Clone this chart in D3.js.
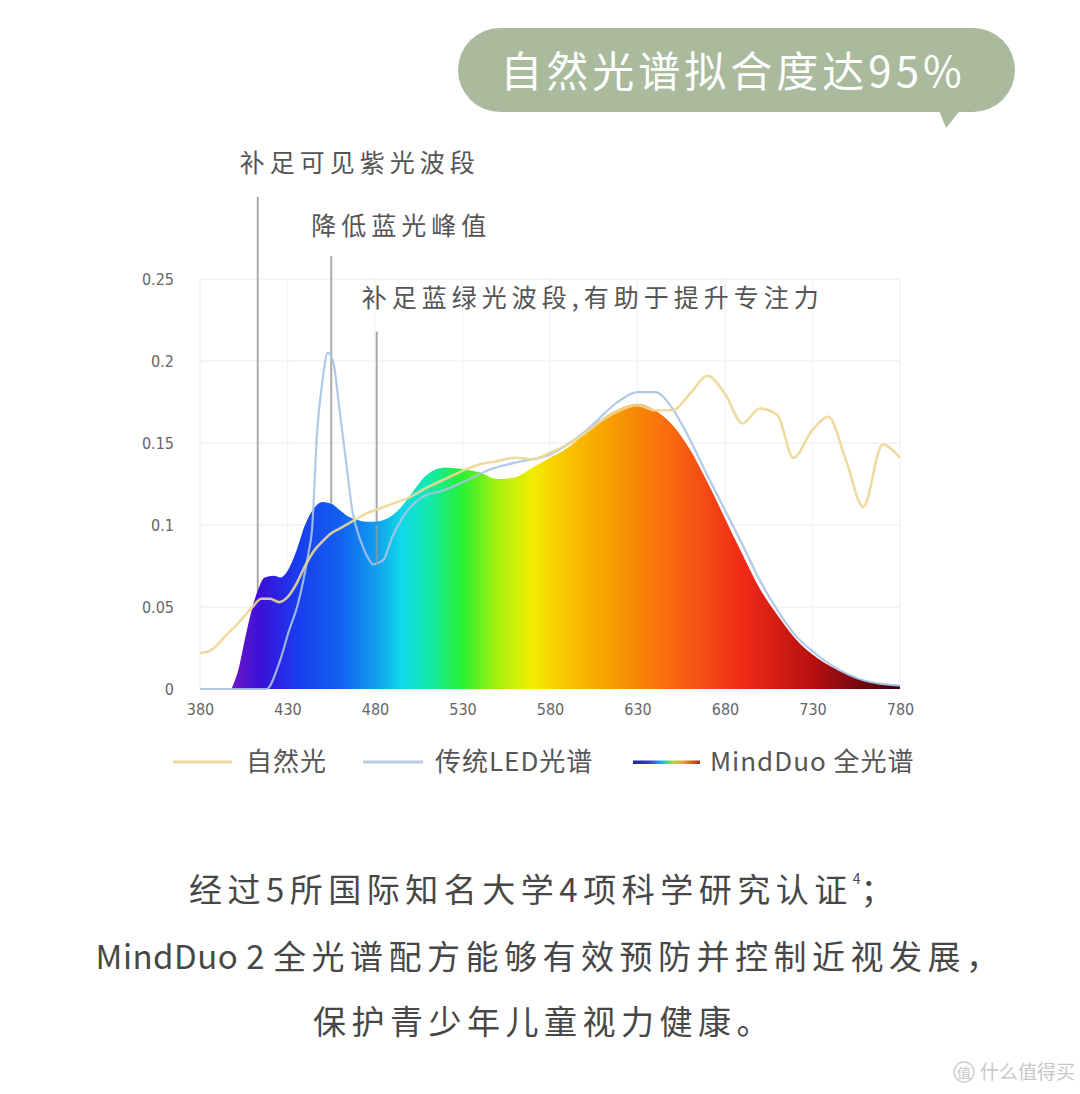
<!DOCTYPE html>
<html><head><meta charset="utf-8">
<script src="https://cdn.jsdelivr.net/npm/d3@7"></script>
<style>
html,body{margin:0;padding:0;background:#fff;}
svg{display:block;font-family:"Noto Sans CJK SC","Noto Sans",sans-serif;}
</style></head>
<body>
<svg id="c" width="1080" height="1094"></svg>
<script>
// ---- data ----
const xTicks = [380,430,480,530,580,630,680,730,780];
const yTicks = [0,0.05,0.1,0.15,0.2,0.25];
const yTickLabels = ["0","0.05","0.1","0.15","0.2","0.25"];

const naturalNm  = [380,385,390,395,400,405,410,415,420,425,430,435,440,445,450,455,460,465,470,475,480,490,500,510,520,530,540,550,560,570,580,590,600,610,620,630,640,650,660,670,680,690,700,710,719,730,739,749,759,770,780];
const naturalVal = [0.022,0.023,0.027,0.033,0.038,0.044,0.050,0.055,0.055,0.053,0.056,0.064,0.075,0.084,0.090,0.095,0.098,0.101,0.104,0.107,0.109,0.113,0.117,0.123,0.128,0.133,0.137,0.139,0.141,0.140,0.144,0.149,0.156,0.164,0.170,0.173,0.170,0.170,0.180,0.191,0.180,0.162,0.171,0.167,0.141,0.158,0.166,0.140,0.111,0.149,0.141];

const ledNm  = [380,400,418,425,431,436,439,442,444,447,450,453,456,460,464,467,470,473,476,479,482,485,490,496,507,519,530,546,560,580,600,620,630,640,650,660,670,680,690,700,710,720,730,740,760,780];
const ledVal = [0,0,0,0.015,0.036,0.052,0.066,0.083,0.097,0.158,0.188,0.205,0.200,0.168,0.134,0.109,0.096,0.087,0.080,0.076,0.077,0.079,0.093,0.105,0.117,0.121,0.126,0.134,0.138,0.143,0.157,0.176,0.181,0.181,0.171,0.152,0.130,0.109,0.088,0.066,0.048,0.033,0.023,0.015,0.005,0.002];

const mindNm  = [398,402,406,410,413,417,422,426,430,435,440,445,450,455,460,465,470,475,480,485,490,495,500,510,520,530,540,550,560,570,580,590,600,610,620,630,640,650,660,670,680,690,700,710,720,730,740,750,760,770,780];
const mindVal = [0,0.012,0.032,0.050,0.060,0.068,0.069,0.068,0.072,0.084,0.100,0.110,0.114,0.113,0.109,0.105,0.103,0.102,0.102,0.103,0.106,0.111,0.118,0.131,0.135,0.134,0.132,0.128,0.129,0.135,0.141,0.147,0.156,0.165,0.171,0.174,0.170,0.161,0.146,0.126,0.104,0.082,0.061,0.045,0.031,0.021,0.014,0.009,0.005,0.003,0.002];

const spectrumNm     = [398,415,435,460,480,495,510,530,550,570,590,615,650,690,730,780];
const spectrumColors = ["#6a18c8","#3a10d8","#1a3cee","#1260f0","#109cee","#10d8e8","#10eab0","#28f030","#a8f010","#f4ec00","#f8c400","#f89c00","#f86810","#f02a18","#b81010","#3a0010"];

const annotations = [
  {nm:413, top:0.300, bottom:0.055, label:"补足可见紫光波段", ly:0.315, dx:-18},
  {nm:455, top:0.264, bottom:0.113, label:"降低蓝光峰值", ly:0.277, dx:-20},
  {nm:481, top:0.218, bottom:0.076, label:"补足蓝绿光波段,有助于提升专注力", ly:0.233, dx:-15}
];

const legendItems = ["自然光","传统LED光谱","MindDuo 全光谱"];
const titleText = "自然光谱拟合度达95%";
const bodyLine1 = "经过5所国际知名大学4项科学研究认证";
const bodyLine2a = "MindDuo 2";
const bodyLine2b = "全光谱配方能够有效预防并控制近视发展，";
const bodyLine3 = "保护青少年儿童视力健康。";

// ---- chart ----
const svg = d3.select("#c");
const x = d3.scaleLinear().domain([380,780]).range([200,900]);
const y = d3.scaleLinear().domain([0,0.25]).range([689,279]);

const defs = svg.append("defs");
const grad = defs.append("linearGradient").attr("id","spec")
  .attr("gradientUnits","userSpaceOnUse")
  .attr("x1",x(380)).attr("x2",x(780)).attr("y1",0).attr("y2",0);
spectrumNm.forEach((n,i)=>grad.append("stop").attr("offset",(n-380)/400).attr("stop-color",spectrumColors[i]));
const lg = defs.append("linearGradient").attr("id","legspec").attr("x1","0").attr("x2","1");
[["0","#1a2a90"],["0.25","#3a3ae0"],["0.45","#20c0e0"],["0.6","#b0e020"],["0.75","#f0a020"],["1","#a03020"]].forEach(s=>lg.append("stop").attr("offset",s[0]).attr("stop-color",s[1]));

// title bubble
const tb = svg.append("g");
tb.append("path").attr("d","M938,108 L962,108 L946,128 Z").attr("fill","#a9ba9d");
tb.append("rect").attr("x",458).attr("y",28).attr("width",557).attr("height",84).attr("rx",42).attr("fill","#a9ba9d");
tb.append("text").attr("x",733).attr("y",87).attr("text-anchor","middle")
  .attr("font-size",42).attr("letter-spacing",4).attr("fill","#fff").text(titleText);

// grid
const grid = svg.append("g");
grid.selectAll(".h").data(yTicks.slice(1)).join("line")
  .attr("x1",x(380)).attr("x2",x(780)).attr("y1",d=>y(d)).attr("y2",d=>y(d))
  .attr("stroke","#ececec").attr("stroke-width",1.2);
grid.selectAll(".v").data(xTicks).join("line")
  .attr("x1",d=>x(d)).attr("x2",d=>x(d)).attr("y1",y(0.25)).attr("y2",y(0))
  .attr("stroke","#f2f2f2").attr("stroke-width",1.2);

// y axis labels
const yAxis = d3.axisLeft(y).tickValues(yTicks).tickFormat((d,i)=>yTickLabels[i]).tickSize(0).tickPadding(0);
const ya = svg.append("g").attr("transform","translate(174,0)").call(yAxis);
ya.select(".domain").remove();
ya.selectAll("text").attr("font-size",16).attr("fill","#666").attr("font-family","'DejaVu Sans Condensed','Liberation Sans Narrow',sans-serif");

// x axis labels
const xAxis = d3.axisBottom(x).tickValues(xTicks).tickFormat(d3.format("d")).tickSize(0).tickPadding(0);
const xa = svg.append("g").attr("transform","translate(0,704)").call(xAxis);
xa.select(".domain").remove();
xa.selectAll("text").attr("font-size",16).attr("fill","#666").attr("font-family","'DejaVu Sans Condensed','Liberation Sans Narrow',sans-serif");

// annotation lines
svg.append("g").selectAll("line").data(annotations).join("line")
  .attr("x1",d=>x(d.nm)).attr("x2",d=>x(d.nm)).attr("y1",d=>y(d.top)).attr("y2",d=>y(d.bottom))
  .attr("stroke","#aaa").attr("stroke-width",2);
svg.append("g").selectAll("text").data(annotations).join("text")
  .attr("x",d=>x(d.nm)+d.dx).attr("y",d=>y(d.ly)).attr("font-size",25).attr("letter-spacing",5)
  .attr("fill","#555").text(d=>d.label);

// fill
const mind = mindNm.map((n,i)=>[n,mindVal[i]]);
const area = d3.area().x(d=>x(d[0])).y0(y(0)).y1(d=>y(d[1])).curve(d3.curveMonotoneX);
svg.append("path").datum(mind).attr("d",area).attr("fill","url(#spec)");

// LED line
const line = d3.line().x(d=>x(d[0])).y(d=>y(d[1])).curve(d3.curveMonotoneX);
svg.append("path").datum(ledNm.map((n,i)=>[n,ledVal[i]])).attr("d",line)
  .attr("fill","none").attr("stroke","#a7c3e6").attr("stroke-width",2.2).attr("opacity",0.9);
// natural line
svg.append("path").datum(naturalNm.map((n,i)=>[n,naturalVal[i]])).attr("d",line)
  .attr("fill","none").attr("stroke","#ecd797").attr("stroke-width",2.6).attr("opacity",0.9);
// annotation 3 over fill
svg.append("line").attr("x1",x(annotations[2].nm)).attr("x2",x(annotations[2].nm))
  .attr("y1",y(0.10)).attr("y2",y(annotations[2].bottom)).attr("stroke","#999").attr("stroke-width",2).attr("opacity",0.7);

// legend
const leg = svg.append("g");
const legX = [[173,232,246,"#ecd9a0"],[363,423,435,"#b9cce2"],[633,700,710,"url(#legspec)"]];
legX.forEach((l,i)=>{
  if(i<2) leg.append("line").attr("x1",l[0]).attr("x2",l[1]).attr("y1",762).attr("y2",762).attr("stroke",l[3]).attr("stroke-width",3);
  else leg.append("rect").attr("x",l[0]).attr("y",760.5).attr("width",l[1]-l[0]).attr("height",3.5).attr("fill",l[3]);
  leg.append("text").attr("x",l[2]).attr("y",771).attr("font-size",26).attr("letter-spacing",1).attr("fill","#555").text(legendItems[i]);
});

// body text
const bt = svg.append("g").attr("fill","#474747").attr("font-size",33).attr("letter-spacing",5.5);
const t1 = bt.append("text").attr("x",544).attr("y",902).attr("text-anchor","middle");
t1.append("tspan").text(bodyLine1);
t1.append("tspan").attr("font-size",14).attr("dy",-18).attr("letter-spacing",0).text("4");
t1.append("tspan").attr("dy",18).text("；");
const t2 = bt.append("text").attr("x",550).attr("y",969).attr("text-anchor","middle");
t2.append("tspan").attr("letter-spacing",0.5).text(bodyLine2a + " ");
t2.append("tspan").text(bodyLine2b);
bt.append("text").attr("x",544).attr("y",1034).attr("text-anchor","middle").text(bodyLine3);

// watermark
const wm = svg.append("g").attr("fill","#c8c8c8");
wm.append("circle").attr("cx",964).attr("cy",1072).attr("r",10).attr("fill","none").attr("stroke","#cfcfcf").attr("stroke-width",1.5);
wm.append("text").attr("x",964).attr("y",1078).attr("text-anchor","middle").attr("font-size",14).text("值");
wm.append("text").attr("x",980).attr("y",1079).attr("font-size",19).text("什么值得买");
</script>
</body></html>
